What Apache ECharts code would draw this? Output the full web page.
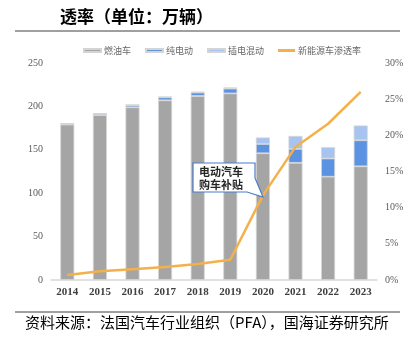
<!DOCTYPE html>
<html><head><meta charset="utf-8">
<script src="https://cdn.jsdelivr.net/npm/echarts@6/dist/echarts.min.js"></script>
<style>html,body{margin:0;padding:0;background:#fff}#c{width:419px;height:347px}</style>
</head><body><div id="c"></div>
<script>
var years = ['2014','2015','2016','2017','2018','2019','2020','2021','2022','2023'];
var ice = [179, 190, 199, 207, 212, 215, 146, 135, 119, 131];
var bev = [1, 1.5, 2.5, 3.5, 4, 5.5, 10.7, 16, 21, 30];
var phev = [0.3, 0.5, 0.5, 0.7, 0.8, 1.3, 7.5, 15, 13, 17];
var rate = [0.7, 1.2, 1.5, 1.8, 2.2, 2.8, 11.7, 18.4, 21.6, 26.0];
var leftTicks = [0, 50, 100, 150, 200, 250];
var rightTicks = [0, 5, 10, 15, 20, 25, 30];

var chart = echarts.init(document.getElementById('c'), null, {renderer:'canvas'});
var serif = '"Liberation Serif","Times New Roman",serif';
var cjk = '"Noto Sans CJK SC","Noto Sans",sans-serif';
chart.setOption({
  animation:false,
  backgroundColor:'#fff',
  legend:{
    left:78, top:41, itemWidth:17, itemHeight:3, itemGap:14,
    textStyle:{fontFamily:cjk, fontSize:9, color:'#666', padding:[0,0,0,-2]},
    data:[
      {name:'燃油车', icon:'rect'},
      {name:'纯电动', icon:'rect'},
      {name:'插电混动', icon:'rect'},
      {name:'新能源车渗透率', icon:'rect'}
    ]
  },
  grid:{left:51, right:42, top:63, bottom:67},
  xAxis:{
    type:'category', data:years,
    axisLine:{lineStyle:{color:'#D9D9D9', width:1.5}},
    axisTick:{show:false},
    axisLabel:{fontFamily:serif, fontWeight:'bold', fontSize:11, color:'#404040', margin:7}
  },
  yAxis:[
    {type:'value', min:leftTicks[0], max:leftTicks[leftTicks.length-1], interval:50,
     splitLine:{show:false}, axisLine:{show:false}, axisTick:{show:false},
     axisLabel:{fontFamily:serif, fontSize:10, color:'#595959', margin:8}},
    {type:'value', min:rightTicks[0], max:rightTicks[rightTicks.length-1], interval:5,
     splitLine:{show:false}, axisLine:{show:false}, axisTick:{show:false},
     axisLabel:{fontFamily:serif, fontSize:10, color:'#595959', margin:8, formatter:'{value}%'}}
  ],
  series:[
    {name:'燃油车', type:'bar', stack:'s', data:ice, barWidth:14,
     itemStyle:{color:'#A5A5A5', borderColor:'#D4D4D4', borderWidth:0.8}},
    {name:'纯电动', type:'bar', stack:'s', data:bev, barWidth:14,
     itemStyle:{color:'#5B93E2', borderColor:'#D4D4D4', borderWidth:0.8}},
    {name:'插电混动', type:'bar', stack:'s', data:phev, barWidth:14,
     itemStyle:{color:'#A7C3F0', borderColor:'#D4D4D4', borderWidth:0.8}},
    {name:'新能源车渗透率', type:'line', yAxisIndex:1, data:rate,
     symbol:'none', lineStyle:{color:'#F4B04A', width:2.5}, itemStyle:{color:'#F4B04A'}}
  ],
  graphic:[
    {type:'text', left:60, top:8, style:{text:'透率（单位：万辆）', fontFamily:cjk, fontSize:17, fontWeight:'bold', fill:'#000'}},
    {type:'line', shape:{x1:15, y1:31, x2:400, y2:31}, style:{stroke:'#404040', lineWidth:1}},
    {type:'line', shape:{x1:15, y1:312, x2:400, y2:312}, style:{stroke:'#404040', lineWidth:1}},
    {type:'text', left:25, top:315, style:{text:'资料来源：法国汽车行业组织（PFA），国海证券研究所', fontFamily:cjk, fontSize:15, fill:'#000'}},
    {type:'polygon', shape:{points:[[193,163],[255,163],[255,178],[263,197],[247,192],[193,192]]},
     style:{fill:'#fff', stroke:'#4A7CC9', lineWidth:1.2}, z:100},
    {type:'text', left:199, top:165, z:101, style:{text:'电动汽车\n购车补贴', fontFamily:cjk, fontSize:11, fontWeight:'bold', fill:'#262626', lineHeight:13}}
  ]
});
</script></body></html>
